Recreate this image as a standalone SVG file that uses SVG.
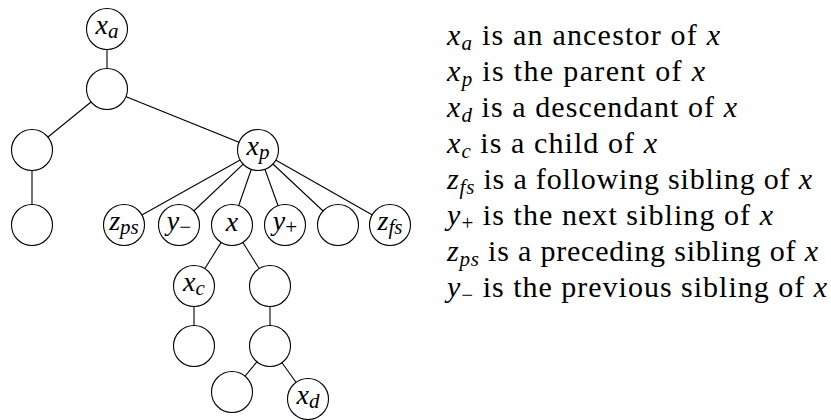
<svg xmlns="http://www.w3.org/2000/svg" width="831" height="420" viewBox="0 0 831 420">
<style>
.n{fill:#fff;stroke:#000;stroke-width:1.1}
.e{stroke:#000;stroke-width:1.1;fill:none}
.lb{font-family:'Liberation Serif',serif;font-size:28px;font-style:italic;text-anchor:middle;fill:#000}
.t{font-family:'Liberation Serif',serif;font-size:30px;fill:#000}
.m{font-style:italic}
.s{font-size:21px}
.su{font-size:21px;font-style:normal}
</style>
<rect width="831" height="420" fill="#fff"/>
<g id="connectors">
<line class="e" x1="107" y1="29" x2="107" y2="89"/>
<line class="e" x1="107" y1="89" x2="32" y2="150"/>
<line class="e" x1="107" y1="89" x2="258" y2="150"/>
<line class="e" x1="32" y1="150" x2="32" y2="225"/>
<line class="e" x1="258" y1="150" x2="124" y2="225"/>
<line class="e" x1="258" y1="150" x2="179" y2="225"/>
<line class="e" x1="258" y1="150" x2="232" y2="225"/>
<line class="e" x1="258" y1="150" x2="285" y2="225"/>
<line class="e" x1="258" y1="150" x2="338" y2="225"/>
<line class="e" x1="258" y1="150" x2="390" y2="225"/>
<line class="e" x1="232" y1="225" x2="194" y2="286"/>
<line class="e" x1="232" y1="225" x2="270" y2="286"/>
<line class="e" x1="194" y1="286" x2="194" y2="346"/>
<line class="e" x1="270" y1="286" x2="270" y2="346"/>
<line class="e" x1="270" y1="346" x2="232" y2="392"/>
<line class="e" x1="270" y1="346" x2="308" y2="399"/>
</g>
<g id="xa"><circle class="n" cx="107" cy="29" r="20.5"/><text class="lb" x="107" y="34">x<tspan class="s" dy="4">a</tspan></text></g>
<g id="n1"><circle class="n" cx="107" cy="89" r="20.5"/></g>
<g id="n2"><circle class="n" cx="32" cy="150" r="20.5"/></g>
<g id="xp"><circle class="n" cx="258" cy="150" r="20.5"/><text class="lb" x="258" y="155">x<tspan class="s" dy="4">p</tspan></text></g>
<g id="n3"><circle class="n" cx="32" cy="225" r="20.5"/></g>
<g id="zps"><circle class="n" cx="124" cy="225" r="20.5"/><text class="lb" x="124" y="230">z<tspan class="s" dy="4">ps</tspan></text></g>
<g id="yminus"><circle class="n" cx="179" cy="225" r="20.5"/><text class="lb" x="179" y="230">y<tspan class="su" dy="4">−</tspan></text></g>
<g id="x"><circle class="n" cx="232" cy="225" r="20.5"/><text class="lb" x="232" y="231">x</text></g>
<g id="yplus"><circle class="n" cx="285" cy="225" r="20.5"/><text class="lb" x="285" y="230">y<tspan class="su" dy="4">+</tspan></text></g>
<g id="n4"><circle class="n" cx="338" cy="225" r="20.5"/></g>
<g id="zfs"><circle class="n" cx="390" cy="225" r="20.5"/><text class="lb" x="390" y="230">z<tspan class="s" dy="4">fs</tspan></text></g>
<g id="xc"><circle class="n" cx="194" cy="286" r="20.5"/><text class="lb" x="194" y="291">x<tspan class="s" dy="4">c</tspan></text></g>
<g id="n5"><circle class="n" cx="270" cy="286" r="20.5"/></g>
<g id="n6"><circle class="n" cx="194" cy="346" r="20.5"/></g>
<g id="n7"><circle class="n" cx="270" cy="346" r="20.5"/></g>
<g id="n8"><circle class="n" cx="232" cy="392" r="20.5"/></g>
<g id="xd"><circle class="n" cx="308" cy="399" r="20.5"/><text class="lb" x="308" y="404">x<tspan class="s" dy="4">d</tspan></text></g>
<g id="legend">
<text class="t" x="447" y="45" textLength="273"><tspan class="m">x</tspan><tspan class="m s" dy="5">a</tspan><tspan dy="-5"> is an ancestor of </tspan><tspan class="m">x</tspan></text>
<text class="t" x="447" y="81" textLength="258"><tspan class="m">x</tspan><tspan class="m s" dy="5">p</tspan><tspan dy="-5"> is the parent of </tspan><tspan class="m">x</tspan></text>
<text class="t" x="447" y="117" textLength="290"><tspan class="m">x</tspan><tspan class="m s" dy="5">d</tspan><tspan dy="-5"> is a descendant of </tspan><tspan class="m">x</tspan></text>
<text class="t" x="447" y="153" textLength="210"><tspan class="m">x</tspan><tspan class="m s" dy="5">c</tspan><tspan dy="-5"> is a child of </tspan><tspan class="m">x</tspan></text>
<text class="t" x="447" y="189" textLength="365"><tspan class="m">z</tspan><tspan class="m s" dy="5">fs</tspan><tspan dy="-5"> is a following sibling of </tspan><tspan class="m">x</tspan></text>
<text class="t" x="447" y="225" textLength="326"><tspan class="m">y</tspan><tspan class="s" dy="5">+</tspan><tspan dy="-5"> is the next sibling of </tspan><tspan class="m">x</tspan></text>
<text class="t" x="447" y="261" textLength="371"><tspan class="m">z</tspan><tspan class="m s" dy="5">ps</tspan><tspan dy="-5"> is a preceding sibling of </tspan><tspan class="m">x</tspan></text>
<text class="t" x="447" y="297" textLength="380"><tspan class="m">y</tspan><tspan class="s" dy="5">−</tspan><tspan dy="-5"> is the previous sibling of </tspan><tspan class="m">x</tspan></text>
</g>
</svg>
